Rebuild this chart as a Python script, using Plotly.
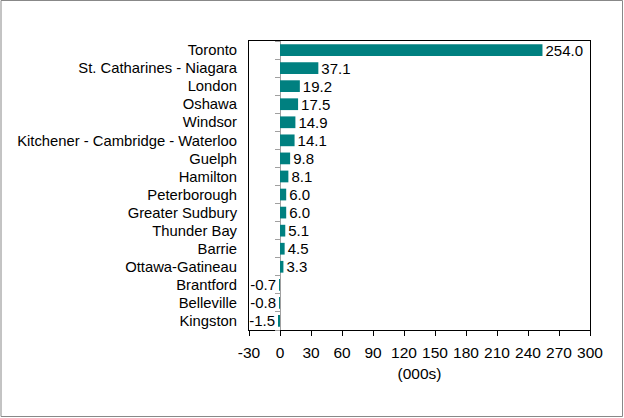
import plotly.graph_objects as go

categories = ["Toronto", "St. Catharines - Niagara", "London", "Oshawa", "Windsor",
              "Kitchener - Cambridge - Waterloo", "Guelph", "Hamilton", "Peterborough",
              "Greater Sudbury", "Thunder Bay", "Barrie", "Ottawa-Gatineau",
              "Brantford", "Belleville", "Kingston"]
values = [254.0, 37.1, 19.2, 17.5, 14.9, 14.1, 9.8, 8.1, 6.0, 6.0, 5.1, 4.5, 3.3, -0.7, -0.8, -1.5]
x_ticks = list(range(-30, 301, 30))
x_title = "(000s)"

W, H = 624, 418
L, R, T, B = 249, 34, 41, 88
pw, ph = W - L - R, H - T - B
xmin, xmax = -30, 300
zero_frac = (0 - xmin) / (xmax - xmin)

fig = go.Figure()
fig.add_trace(go.Bar(
    y=categories, x=values, orientation="h",
    marker=dict(color="#008080", line=dict(width=0)),
    width=0.65,
    text=[f"{v:.1f}" for v in values], textposition="outside",
    textfont=dict(size=15, color="#000000"), constraintext="none",
    cliponaxis=False, showlegend=False, hoverinfo="skip",
))
n = len(categories)
fig.add_trace(go.Scatter(x=[0], y=[0], yaxis="y2", mode="markers",
                         marker=dict(opacity=0), showlegend=False, hoverinfo="skip"))

fig.update_layout(
    width=W, height=H,
    margin=dict(l=L, r=R, t=T, b=B),
    paper_bgcolor="white", plot_bgcolor="white",
    font=dict(family="Liberation Sans, Arial, sans-serif", size=14, color="#000000"),
    xaxis=dict(range=[xmin, xmax], tickvals=x_ticks, ticktext=[str(t) for t in x_ticks],
               showgrid=False, zeroline=True, zerolinecolor="#a0a0a0", zerolinewidth=1,
               showline=True, linecolor="#000000", linewidth=1, mirror=True,
               ticks="outside", ticklen=5, tickcolor="#000000",
               tickfont=dict(size=15.5), ticklabelstandoff=3,
               title=dict(text=x_title, font=dict(size=15.5), standoff=8),
               fixedrange=True),
    yaxis=dict(autorange="reversed", showgrid=False, ticks="", showline=True,
               linecolor="#000000", linewidth=1, mirror=True,
               tickfont=dict(size=14.8), ticklabelstandoff=8, fixedrange=True),
    yaxis2=dict(overlaying="y", anchor="free", position=zero_frac,
                range=[n - 0.5, -0.5], tickvals=[i + 0.5 for i in range(-1, n)],
                showticklabels=False, ticks="outside", ticklen=5, tickcolor="#a0a0a0",
                showline=False, showgrid=False, zeroline=False, fixedrange=True),
    bargap=0.35,
)

fig.add_shape(type="rect", xref="paper", yref="paper",
              x0=(1 - L) / pw, x1=(622.5 - L) / pw,
              y0=(H - B - 416.5) / ph, y1=(H - B - 0.5) / ph,
              line=dict(color="#888888", width=1), fillcolor="rgba(0,0,0,0)", layer="below")

fig.write_html("out.html", config={"displayModeBar": False},
               post_script="document.body.style.margin='0';document.body.style.padding='0';")
